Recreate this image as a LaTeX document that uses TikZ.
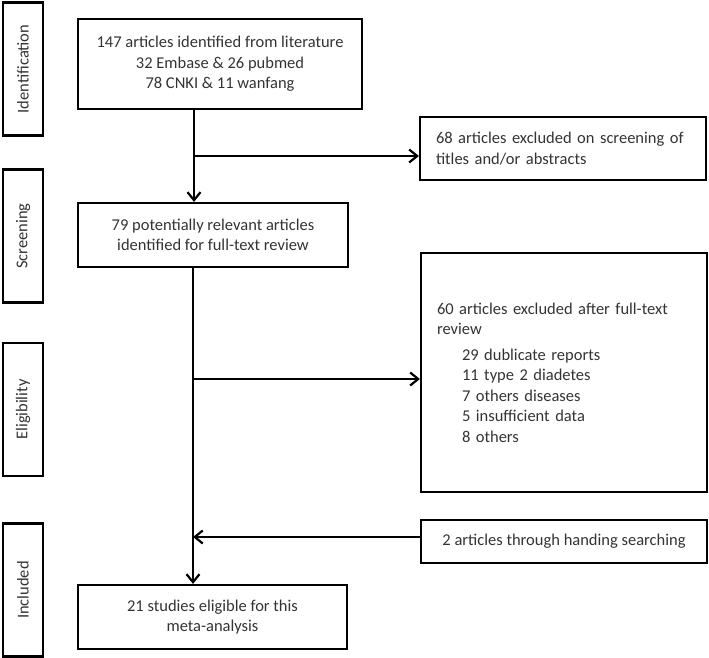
\documentclass[tikz,border=0pt]{standalone}
\usepackage{fontspec}
\setmainfont{Carlito}
\usetikzlibrary{arrows.meta}
\tikzset{
	stage/.style={draw,line width=2.2pt,rotate=90,minimum width=133pt,minimum height=40pt,inner sep=0pt,font=\fontsize{16.5}{18}\selectfont,text=black!80},
	box/.style={draw,line width=2.2pt,inner sep=0pt,font=\fontsize{16.5}{20.5}\selectfont,text=black!80,align=center},
	exbox/.style={box,align=left,text width=254pt,inner xsep=16pt},
	flow/.style={line width=2.2pt,-{Straight Barb[length=8pt,width=13pt]}},
}
\begin{document}
\begin{tikzpicture}[x=1pt,y=-1pt]
			\useasboundingbox (0,0) rectangle (709,658);
			% stages on the left
			\foreach \name/\y/\txt in {idlab/69/Identification,scrlab/236/Screening,elilab/409.5/Eligibility,inclab/590/Included}
				\node[stage] (\name) at (23,\y) {\txt};
			% main column
			\node[box,minimum width=284pt,minimum height=90pt] (found) at (220,64) {147 articles identified from literature\\32 Embase \& 26 pubmed\\78 CNKI \& 11 wanfang};
			\node[box,minimum width=270pt,minimum height=64pt] (screened) at (213,235) {79 potentially relevant articles\\identified for full-text review};
			\node[box,minimum width=269pt,minimum height=64pt] (eligible) at (212.5,617) {21 studies eligible for this\\meta-analysis};
			% right column
			\node[exbox,minimum height=63pt] (absexcl) at (563,148.5) {68 articles excluded on screening of\\titles and/or abstracts};
			\node[exbox,minimum height=239pt] (ftexcl) at (564,372.5) {60 articles excluded after full-text\\review\\[5pt]
				\hspace*{25pt}29 dublicate reports\\
				\hspace*{25pt}11 type 2 diadetes\\
				\hspace*{25pt}7 others diseases\\
				\hspace*{25pt}5 insufficient data\\
				\hspace*{25pt}8 others};
			\node[box,minimum width=286pt,minimum height=43pt] (hand) at (564,541.5) {2 articles through handing searching};
			% trunk and branches
			\coordinate (trunkA) at (194,0);
			\coordinate (trunkB) at (193,0);
			\coordinate (splitA) at (0,156);
			\coordinate (splitB) at (0,379);
			\coordinate (joinB) at (0,537);
			\draw[flow] (found.south -| trunkA) -- (screened.north -| trunkA);
			\draw[flow] (trunkA |- splitA) -- (absexcl.west |- splitA);
			\draw[flow] (screened.south -| trunkB) -- (eligible.north -| trunkB);
			\draw[flow] (trunkB |- splitB) -- (ftexcl.west |- splitB);
			\draw[flow] (hand.west |- joinB) -- (trunkB |- joinB);
\end{tikzpicture}
\end{document}
